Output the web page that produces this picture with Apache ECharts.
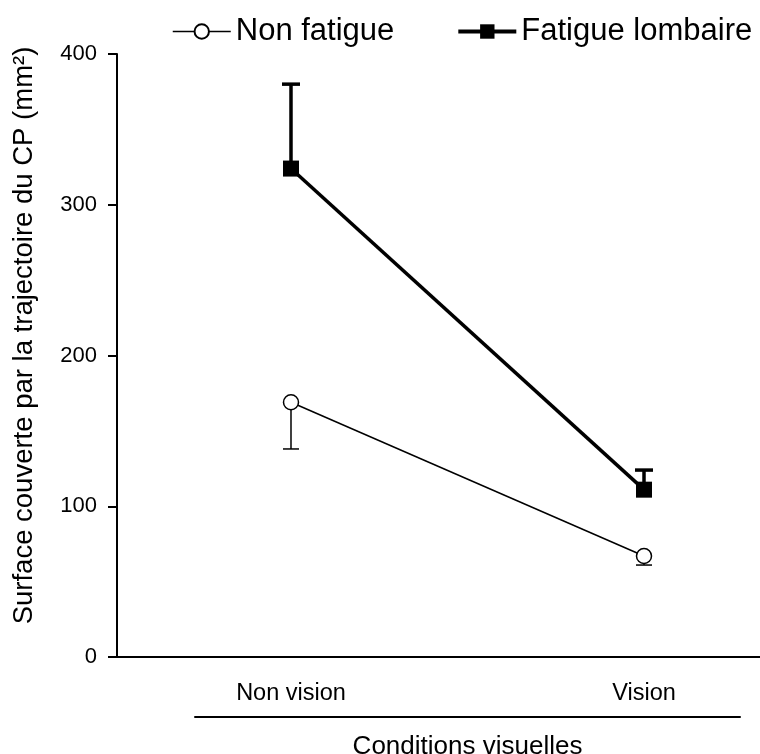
<!DOCTYPE html>
<html>
<head>
<meta charset="utf-8">
<script src="https://cdn.jsdelivr.net/npm/echarts@6/dist/echarts.min.js"></script>
<style>
html,body{margin:0;padding:0;background:#fff;}
#chart{width:760px;height:754px;}
</style>
</head>
<body>
<div id="chart"></div>
<script>
// ---- data ----
const categories = ['Non vision', 'Vision'];
const seriesNames = ['Non fatigue', 'Fatigue lombaire'];
const nonFatigueMean = [169, 67];
const nonFatigueErrLow = [138, 61];
const fatigueMean = [324, 111];
const fatigueErrHigh = [380, 124];
const yTicks = [0, 100, 200, 300, 400];
const yAxisTitle = 'Surface couverte par la trajectoire du CP (mm²)';
const xAxisTitle = 'Conditions visuelles';

const FONT = 'Liberation Sans, Arial, sans-serif';
const chart = echarts.init(document.getElementById('chart'), null, {renderer: 'canvas'});

function pts(vals) { return vals.map((v, i) => [i, v]); }
function errData(mean, end) { return mean.map((m, i) => [i, m, end[i]]); }

function errorBar(lineWidth, capHalf) {
  return function (params, api) {
    const x = api.value(0);
    const p0 = api.coord([x, api.value(1)]);
    const p1 = api.coord([x, api.value(2)]);
    const st = {stroke: '#000', lineWidth: lineWidth};
    return {
      type: 'group',
      children: [
        {type: 'line', shape: {x1: p0[0], y1: p0[1], x2: p1[0], y2: p1[1]}, style: st},
        {type: 'line', shape: {x1: p1[0] - capHalf, y1: p1[1], x2: p1[0] + capHalf, y2: p1[1]}, style: st}
      ]
    };
  };
}

const option = {
  animation: false,
  backgroundColor: '#fff',
  textStyle: {fontFamily: FONT, color: '#000'},
  legend: {
    top: 11,
    left: 167,
    itemWidth: 58,
    itemHeight: 18,
    itemGap: 62,
    textStyle: {fontFamily: FONT, fontSize: 31, color: '#000'},
    data: [
      {name: seriesNames[0], lineStyle: {width: 1.5, color: '#000'}},
      {name: seriesNames[1], lineStyle: {width: 4, color: '#000'}}
    ]
  },
  grid: [
    {left: 117, right: 0, top: 54, bottom: 97, containLabel: false},
    {left: 195, right: 20, top: 717, height: 0, containLabel: false}
  ],
  xAxis: [
    {
      type: 'value', gridIndex: 0,
      min: -0.4929, max: 1.3286,
      axisLine: {show: true, onZero: false, lineStyle: {color: '#000', width: 2}},
      axisTick: {show: false},
      splitLine: {show: false},
      axisLabel: {
        show: true,
        customValues: [0, 1],
        formatter: v => categories[Math.round(v)] || '',
        fontFamily: FONT, fontSize: 23.5, color: '#000', margin: 25
      }
    },
    {
      type: 'value', gridIndex: 1, min: 0, max: 1,
      axisLine: {show: true, onZero: false, lineStyle: {color: '#000', width: 2}},
      axisTick: {show: false}, axisLabel: {show: false}, splitLine: {show: false},
      name: xAxisTitle, nameLocation: 'middle', nameGap: 17,
      nameTextStyle: {fontFamily: FONT, fontSize: 26, color: '#000'}
    }
  ],
  yAxis: [
    {
      type: 'value', gridIndex: 0, min: 0, max: 400, interval: 100,
      axisLine: {show: true, onZero: false, lineStyle: {color: '#000', width: 2}},
      axisTick: {show: true, inside: false, length: 9, lineStyle: {color: '#000', width: 2}},
      splitLine: {show: false},
      axisLabel: {fontFamily: FONT, fontSize: 22, color: '#000', margin: 20,
                  formatter: v => yTicks.indexOf(v) >= 0 ? String(v) : ''},
      name: yAxisTitle, nameLocation: 'middle', nameGap: 79, nameRotate: 90,
      nameTextStyle: {fontFamily: FONT, fontSize: 27.5, color: '#000', padding: [0, 0, 0, 40]}
    },
    {type: 'value', gridIndex: 1, show: false}
  ],
  series: [
    {
      type: 'custom', name: 'errNF', xAxisIndex: 0, yAxisIndex: 0, z: 1,
      renderItem: errorBar(1.5, 8), data: errData(nonFatigueMean, nonFatigueErrLow),
      silent: true, legendHoverLink: false
    },
    {
      type: 'custom', name: 'errF', xAxisIndex: 0, yAxisIndex: 0, z: 1,
      renderItem: errorBar(3.5, 9), data: errData(fatigueMean, fatigueErrHigh),
      silent: true, legendHoverLink: false
    },
    {
      type: 'line', name: seriesNames[0], xAxisIndex: 0, yAxisIndex: 0, z: 3,
      data: pts(nonFatigueMean),
      symbol: 'circle', symbolSize: 15,
      lineStyle: {color: '#000', width: 1.5},
      itemStyle: {color: '#fff', borderColor: '#000', borderWidth: 1.5}
    },
    {
      type: 'line', name: seriesNames[1], xAxisIndex: 0, yAxisIndex: 0, z: 3,
      data: pts(fatigueMean),
      symbol: 'rect', symbolSize: 16,
      lineStyle: {color: '#000', width: 3.5},
      itemStyle: {color: '#000', borderColor: '#000', borderWidth: 0}
    }
  ]
};
chart.setOption(option);
</script>
</body>
</html>
